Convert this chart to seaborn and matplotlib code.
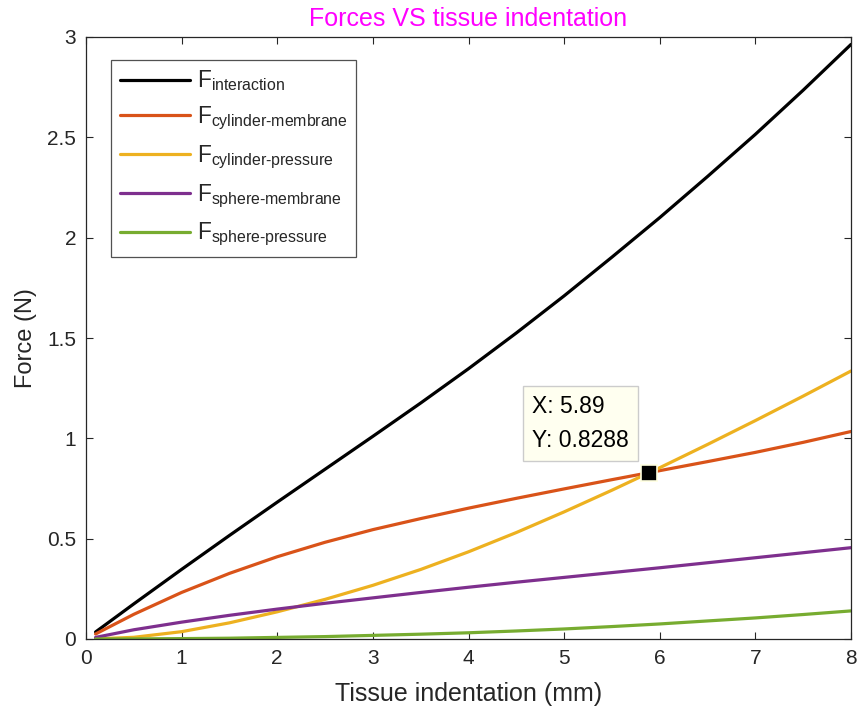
import matplotlib
matplotlib.use("Agg")
import matplotlib.pyplot as plt
from matplotlib.ticker import FuncFormatter
import pandas as pd
import seaborn as sns

# Tissue indentation (mm)
indentation = [0.1, 0.5, 1.0, 1.5, 2.0, 2.5, 3.0, 3.5, 4.0, 4.5, 5.0, 5.5, 6.0, 6.5, 7.0, 7.5, 8.0]

# Force components (N)
f_interaction = [0.035, 0.175, 0.347, 0.516, 0.682, 0.846, 1.01, 1.176, 1.347, 1.525, 1.71, 1.903, 2.10, 2.305, 2.515, 2.735, 2.963]
f_cyl_membrane = [0.025, 0.123, 0.232, 0.327, 0.41, 0.482, 0.545, 0.60, 0.652, 0.701, 0.748, 0.794, 0.839, 0.884, 0.93, 0.98, 1.034]
f_cyl_pressure = [0.0005, 0.0085, 0.0365, 0.0805, 0.1355, 0.1975, 0.2675, 0.3465, 0.4345, 0.5305, 0.6335, 0.7415, 0.8535, 0.9695, 1.0885, 1.2105, 1.3355]
f_sph_membrane = [0.008, 0.046, 0.084, 0.118, 0.149, 0.178, 0.205, 0.232, 0.258, 0.283, 0.307, 0.331, 0.355, 0.38, 0.405, 0.43, 0.455]
f_sph_pressure = [0.0, 0.0005, 0.002, 0.004, 0.008, 0.012, 0.018, 0.024, 0.031, 0.04, 0.05, 0.062, 0.075, 0.09, 0.105, 0.122, 0.14]

series_names = [r"F$_{\mathrm{interaction}}$",
                r"F$_{\mathrm{cylinder\text{-}membrane}}$",
                r"F$_{\mathrm{cylinder\text{-}pressure}}$",
                r"F$_{\mathrm{sphere\text{-}membrane}}$",
                r"F$_{\mathrm{sphere\text{-}pressure}}$"]
series_values = [f_interaction, f_cyl_membrane, f_cyl_pressure, f_sph_membrane, f_sph_pressure]
colors = ["#000000", "#D95319", "#EDB120", "#7E2F8E", "#77AC30"]

# Data tip
tip_x = 5.89
tip_y = 0.8288

x_ticks = [0, 1, 2, 3, 4, 5, 6, 7, 8]
y_ticks = [0, 0.5, 1, 1.5, 2, 2.5, 3]

sns.set_theme(style="white")
plt.rcParams["font.family"] = ["Liberation Sans", "DejaVu Sans"]
plt.rcParams["mathtext.fontset"] = "custom"
plt.rcParams["mathtext.rm"] = "Liberation Sans"
plt.rcParams["mathtext.it"] = "Liberation Sans"

rows = []
for name, vals in zip(series_names, series_values):
    for xv, yv in zip(indentation, vals):
        rows.append({"x": xv, "y": yv, "series": name})
df = pd.DataFrame(rows)

fig = plt.figure(figsize=(8.61, 7.19), dpi=100)
ax = fig.add_axes([86 / 861, 1 - 639 / 719, (851 - 86) / 861, (639 - 37) / 719])

sns.lineplot(data=df, x="x", y="y", hue="series", hue_order=series_names,
             palette=colors, linewidth=2.3, ax=ax, sort=False, estimator=None)

ax.set_xlim(0, 8)
ax.set_ylim(0, 3)
ax.set_xticks(x_ticks)
ax.set_yticks(y_ticks)
ax.yaxis.set_major_formatter(FuncFormatter(lambda v, p: f"{v:g}"))
ax.tick_params(direction="in", length=5, width=0.8, colors="#262626",
               labelsize=15, top=True, right=True, bottom=True, left=True, pad=7)
for sp in ax.spines.values():
    sp.set_color("#262626")
    sp.set_linewidth(0.9)
    sp.set_visible(True)

ax.set_xlabel("Tissue indentation (mm)", fontsize=18, color="#262626", labelpad=10)
ax.set_ylabel("Force (N)", fontsize=17, color="#262626", labelpad=7)
ax.set_title("Forces VS tissue indentation", fontsize=18, color="#FF00FF", pad=8)

leg = ax.legend(loc="upper left", bbox_to_anchor=(0.0327, 0.9618), fontsize=16.3,
                frameon=True, fancybox=False, handlelength=3.1, handletextpad=0.3,
                labelspacing=0.5, borderpad=0.38, borderaxespad=0)
leg.get_frame().set_edgecolor("#262626")
leg.get_frame().set_linewidth(0.9)
for line in leg.get_lines():
    line.set_linewidth(2.3)

# Data tip marker and box
ax.plot([tip_x], [tip_y], marker="s", markersize=11, color="black",
        markeredgecolor="#FFFFE0", markeredgewidth=1.2, zorder=6)
ax.annotate(f"X: {tip_x:g}\nY: {tip_y:g}", xy=(tip_x, tip_y), xytext=(-20, 21),
            textcoords="offset pixels", fontsize=16.5, color="black",
            linespacing=1.6, ha="right", va="bottom", multialignment="left",
            bbox=dict(boxstyle="square,pad=0.4", facecolor="#FFFFF0",
                      edgecolor="#CCCCCC", linewidth=1.0), zorder=7)

fig.savefig("out.png", dpi=100)
